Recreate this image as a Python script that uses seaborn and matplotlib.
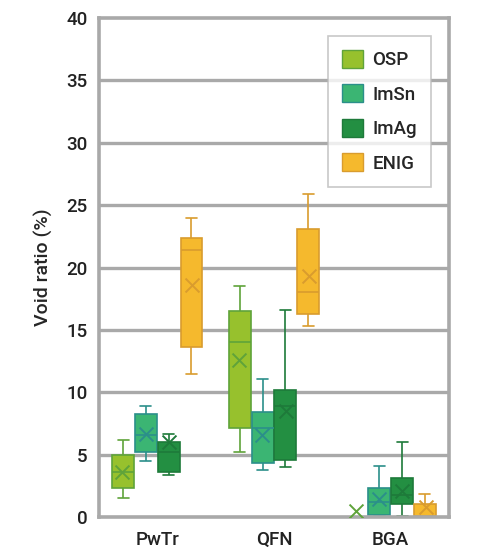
import matplotlib
matplotlib.use("Agg")
import matplotlib.pyplot as plt
import seaborn as sns
import pandas as pd
from matplotlib.patches import Patch

categories = ["PwTr", "QFN", "BGA"]
series = ["OSP", "ImSn", "ImAg", "ENIG"]

# five-number summaries per series: [PwTr, QFN, BGA]
OSP_min  = [1.55, 5.2, 0.0]
OSP_q1   = [2.3, 7.1, 0.0]
OSP_med  = [3.6, 14.05, 0.0]
OSP_q3   = [4.97, 16.5, 0.0]
OSP_max  = [6.15, 18.5, 0.0]
OSP_mean = [3.6, 12.6, 0.5]

ImSn_min  = [4.45, 3.8, 0.05]
ImSn_q1   = [5.2, 4.33, 0.16]
ImSn_med  = [6.6, 7.1, 1.23]
ImSn_q3   = [8.28, 8.4, 2.3]
ImSn_max  = [8.9, 11.06, 4.1]
ImSn_mean = [6.65, 6.6, 1.44]

ImAg_min  = [3.4, 4.0, 0.05]
ImAg_q1   = [3.58, 4.54, 1.02]
ImAg_med  = [5.2, 8.92, 1.76]
ImAg_q3   = [6.04, 10.2, 3.15]
ImAg_max  = [6.67, 16.6, 6.04]
ImAg_mean = [6.0, 8.5, 2.08]

ENIG_min  = [11.5, 15.3, 0.0]
ENIG_q1   = [13.6, 16.3, 0.05]
ENIG_med  = [21.4, 18.0, 0.1]
ENIG_q3   = [22.36, 23.1, 1.02]
ENIG_max  = [23.96, 25.9, 1.87]
ENIG_mean = [18.6, 19.3, 0.8]

stats = {
    "OSP": (OSP_min, OSP_q1, OSP_med, OSP_q3, OSP_max, OSP_mean),
    "ImSn": (ImSn_min, ImSn_q1, ImSn_med, ImSn_q3, ImSn_max, ImSn_mean),
    "ImAg": (ImAg_min, ImAg_q1, ImAg_med, ImAg_q3, ImAg_max, ImAg_mean),
    "ENIG": (ENIG_min, ENIG_q1, ENIG_med, ENIG_q3, ENIG_max, ENIG_mean),
}

fill = {"OSP": "#97c12d", "ImSn": "#3bb573", "ImAg": "#238f42", "ENIG": "#f5b92d"}
edge = {"OSP": "#5fa33a", "ImSn": "#2b8f8a", "ImAg": "#1e7a3a", "ENIG": "#d99c2e"}

rows, mrows = [], []
for s, (mn, q1, md, q3, mx, mean) in stats.items():
    for i, c in enumerate(categories):
        for v in (mn[i], q1[i], md[i], q3[i], mx[i]):
            rows.append({"cat": c, "series": s, "val": v})
        mrows.append({"cat": c, "series": s, "val": mean[i]})
df = pd.DataFrame(rows)
mdf = pd.DataFrame(mrows)

sns.set_theme(style="white")
plt.rcParams["font.family"] = ["Roboto", "DejaVu Sans"]

fig = plt.figure(figsize=(4.93, 5.51), dpi=100)
ax = fig.add_axes([0.2008, 0.0617, 0.7100, 0.9056])

grid_c = "#a9a9a9"
for y in range(5, 40, 5):
    ax.axhline(y, color=grid_c, lw=2.4, zorder=0)

for s in series:
    sub = df[df["series"] == s]
    sns.boxplot(data=sub, x="cat", y="val", hue="series", order=categories,
                hue_order=series, palette=fill, whis=(0, 100), width=0.78,
                gap=0.04, dodge=True, linecolor=edge[s], linewidth=1.2,
                fliersize=0, legend=False, ax=ax, saturation=1,
                capprops={"color": edge[s]}, whiskerprops={"color": edge[s]},
                medianprops={"color": edge[s]})

sns.stripplot(data=mdf, x="cat", y="val", hue="series", order=categories,
              hue_order=series, palette=edge, dodge=True, jitter=False,
              marker="x", s=10, linewidth=1.4, legend=False, ax=ax, zorder=5)

ax.set_ylim(0, 40)
ax.set_xlim(-0.5, 2.5)
ax.set_yticks(range(0, 41, 5))
ax.set_xlabel("")
ax.set_ylabel("Void ratio (%)", fontsize=14, labelpad=10, fontweight="medium")
ax.tick_params(axis="both", labelsize=13.5, length=0, colors="#222222")
ax.tick_params(axis="x", pad=10)
ax.tick_params(axis="y", pad=8)
for lab in ax.get_xticklabels() + ax.get_yticklabels():
    lab.set_fontweight("medium")
for sp in ax.spines.values():
    sp.set_visible(True)
    sp.set_color(grid_c)
    sp.set_linewidth(2.6)

handles = [Patch(facecolor=fill[s], edgecolor=edge[s], label=s) for s in series]
leg = ax.legend(handles=handles, loc="upper right", bbox_to_anchor=(0.949, 0.964),
                borderaxespad=0, frameon=True, fancybox=False, handlelength=1.1,
                handleheight=1.1, labelspacing=0.8, borderpad=0.75,
                handletextpad=0.5, prop={"weight": "medium", "size": 13.5})
leg.get_frame().set_edgecolor("#bbbbbb")
leg.get_frame().set_linewidth(1.2)

fig.savefig("out.png", dpi=100)
